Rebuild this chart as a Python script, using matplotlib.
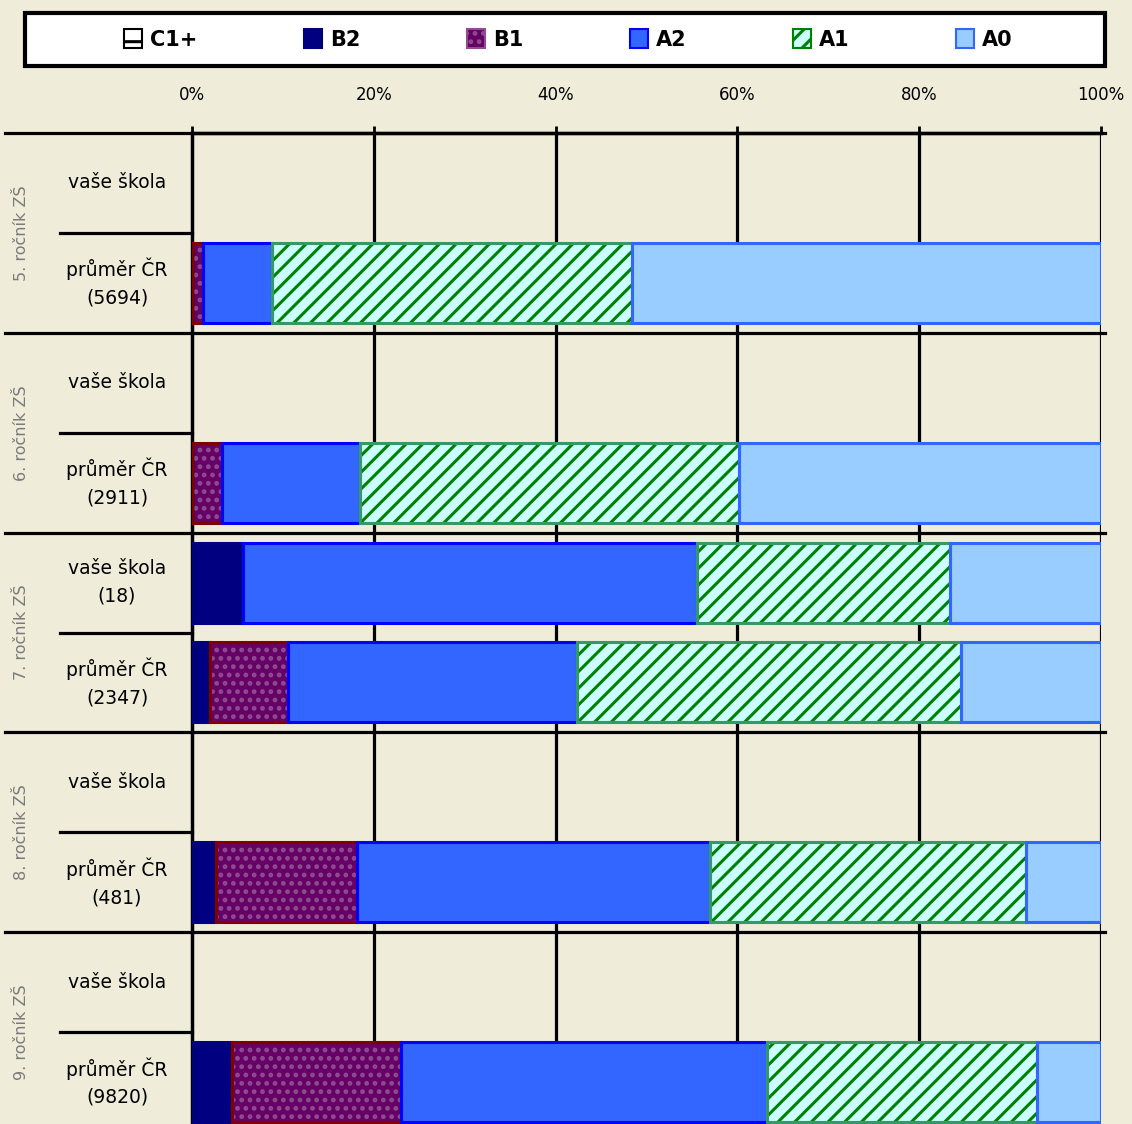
import numpy as np
import matplotlib.pyplot as plt
import matplotlib.transforms as mtransforms
from matplotlib.patches import Patch, Rectangle

plt.rcParams['hatch.linewidth'] = 2.2

# rows from top: (group, row)
groups = ["5. ročník ZŠ", "6. ročník ZŠ", "7. ročník ZŠ", "8. ročník ZŠ", "9. ročník ZŠ"]
row_labels = ["vaše škola", "průměr ČR\n(5694)",
              "vaše škola", "průměr ČR\n(2911)",
              "vaše škola\n(18)", "průměr ČR\n(2347)",
              "vaše škola", "průměr ČR\n(481)",
              "vaše škola", "průměr ČR\n(9820)"]
tick_vals = [0, 20, 40, 60, 80, 100]
tick_labels = ["0%", "20%", "40%", "60%", "80%", "100%"]

levels = ["C1+", "B2", "B1", "A2", "A1", "A0"]
c1 = [0, 0, 0, 0, 0, 0, 0, 0, 0, 0]
b2 = [0, 0, 0, 0, 5.6, 2.0, 0, 2.6, 0, 4.4]
b1 = [0, 1.2, 0, 3.3, 0, 8.6, 0, 15.5, 0, 18.6]
a2 = [0, 7.6, 0, 15.2, 50.0, 31.8, 0, 38.9, 0, 40.3]
a1 = [0, 39.6, 0, 41.7, 27.8, 42.2, 0, 34.8, 0, 29.7]
a0 = [0, 51.6, 0, 39.8, 16.6, 15.4, 0, 8.2, 0, 7.0]

# fill, hatch color, border, hatch
styles = {
    "C1+": ("white", "black", "black", "-"),
    "B2": ("#000080", "#000080", "#000080", None),
    "B1": ("#660066", "#8E4E8E", "#800000", ".."),
    "A2": ("#3366FF", "#3366FF", "#0000FF", None),
    "A1": ("#CCFFFF", "#008000", "#339966", "//"),
    "A0": ("#99CCFF", "#99CCFF", "#3366FF", None),
}

bg = "#EFECDA"
W, H = 1132, 1124


def main():
    fig = plt.figure(figsize=(W / 100, H / 100), dpi=100, facecolor=bg)
    ax = fig.add_axes([192 / W, 1 - 1132 / H, (1101 - 192) / W, 999 / H])
    ax.set_facecolor(bg)
    ax.set_xlim(0, 100)
    ax.set_ylim(10, 0)

    y = np.arange(10) + 0.5
    left = np.zeros(10)
    for name, vals in zip(levels, [c1, b2, b1, a2, a1, a0]):
        vals = np.array(vals)
        fc, hc, ec, hatch = styles[name]
        m = vals > 0
        ax.barh(y[m], vals[m], left=left[m], height=0.8, color=fc,
                edgecolor=hc, hatch=hatch, linewidth=0, zorder=2)
        ax.barh(y[m], vals[m], left=left[m], height=0.8, fill=False,
                edgecolor=ec, linewidth=2.2, zorder=3)
        left = left + vals

    for v in tick_vals[1:]:
        ax.axvline(v, color="black", lw=2.3, zorder=1)

    for s in ["right", "bottom"]:
        ax.spines[s].set_visible(False)
    ax.spines["left"].set_linewidth(2.5)
    ax.spines["top"].set_linewidth(2.5)
    ax.set_yticks([])
    ax.xaxis.tick_top()
    ax.set_xticks(tick_vals)
    ax.set_xticklabels(tick_labels)
    ax.tick_params(axis="x", length=5, width=2, pad=16, labelsize=12)

    tr = mtransforms.blended_transform_factory(fig.transFigure, ax.transData)
    for g in range(5):
        yb = 2 * g
        ax.plot([5 / W, 1105 / W], [yb, yb], transform=tr, clip_on=False,
                color="black", lw=2.3, zorder=4)
        ax.plot([60 / W, 192 / W], [yb + 1, yb + 1], transform=tr, clip_on=False,
                color="black", lw=2.3, zorder=4)
        ax.text(22 / W, yb + 1, groups[g], transform=tr, rotation=90,
                ha="center", va="center", fontsize=11.5, color="#7A7A7A")
    for i, lab in enumerate(row_labels):
        ax.text(117 / W, i + 0.5, lab, transform=tr, ha="center", va="center",
                multialignment="center", fontsize=13.5, linespacing=1.55)

    # legend
    fig.patches.append(Rectangle((25 / W, 1 - 66 / H), 1080 / W, 53 / H,
                                 transform=fig.transFigure, facecolor="white",
                                 edgecolor="black", lw=3, zorder=0))
    handles = [Patch(facecolor=styles[n][0], edgecolor=styles[n][2] if styles[n][3] is None else styles[n][1],
                     hatch=styles[n][3], lw=1.5) for n in levels]
    fig.legend(handles, levels, loc="center", ncol=6, mode="expand", frameon=False,
               bbox_to_anchor=(116 / W, 1 - 66 / H, 905 / W, 53 / H),
               prop={"weight": "bold", "size": 15}, handlelength=0.85,
               handleheight=1.0, handletextpad=0.4, borderaxespad=0)

    plt.savefig("out.png", dpi=100, facecolor=bg)


if __name__ == "__main__":
    main()
